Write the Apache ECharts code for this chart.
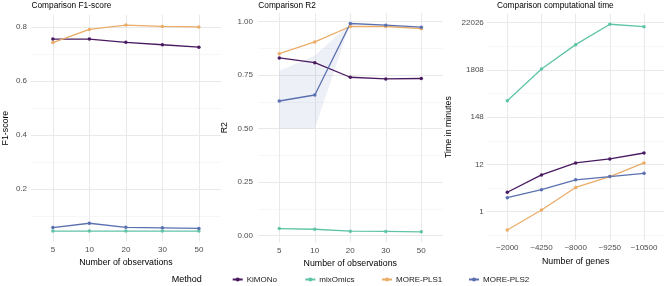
<!DOCTYPE html>
<html>
<head>
<meta charset="utf-8">
<script src="https://cdn.jsdelivr.net/npm/echarts@6/dist/echarts.min.js"></script>
<style>html,body{margin:0;padding:0;background:#fff}#c{width:666px;height:286px}</style>
</head>
<body>
<div id="c"></div>
<script>
// ---- data ----
const obsCats = ['5', '10', '20', '30', '50'];
const geneCats = ['~2000', '~4250', '~8000', '~9250', '~10500'];
const methods = ['KiMONo', 'mixOmics', 'MORE-PLS1', 'MORE-PLS2'];

const f1KiMONo = [0.755, 0.755, 0.743, 0.734, 0.725];
const f1MixOmics = [0.044, 0.044, 0.044, 0.044, 0.044];
const f1Pls1 = [0.742, 0.791, 0.807, 0.802, 0.800];
const f1Pls2 = [0.057, 0.073, 0.058, 0.056, 0.054];

const r2KiMONo = [0.830, 0.808, 0.740, 0.732, 0.734];
const r2MixOmics = [0.033, 0.030, 0.021, 0.020, 0.018];
const r2Pls1 = [0.850, 0.905, 0.977, 0.977, 0.967];
const r2Pls2 = [0.629, 0.657, 0.991, 0.983, 0.974];
const r2Pls2Low = [0.50, 0.50, 0.991, 0.983, 0.974];
const r2Pls2High = [0.77, 0.84, 0.991, 0.983, 0.974];

const timeKiMONo = [2.8, 7.0, 13.2, 16.3, 22.3];
const timeMixOmics = [355, 1900, 6900, 20300, 17800];
const timePls1 = [0.38, 1.09, 3.6, 6.4, 13.2];
const timePls2 = [2.1, 3.2, 5.4, 6.4, 7.6];

const f1Ticks = [0.2, 0.4, 0.6, 0.8];
const f1Minor = [0.1, 0.3, 0.5, 0.7];
const r2Ticks = [0, 0.25, 0.5, 0.75, 1];
const r2Minor = [0.125, 0.375, 0.625, 0.875];
const timeTicksLn = [0, 2.5, 5, 7.5, 10];
const timeMinorLn = [-1.25, 1.25, 3.75, 6.25, 8.75];

// ---- style ----
const colors = {'KiMONo': '#4a1a60', 'mixOmics': '#5fc4a7', 'MORE-PLS1': '#eaac67', 'MORE-PLS2': '#5a70b0'};
const FONT = 'Liberation Sans, Arial, sans-serif';
const majorCol = '#e9e9e9', minorCol = '#f3f3f3';

const grids = [
  {left: 31, top: 14.8, width: 189.8, height: 226.6},
  {left: 258, top: 13, width: 184.6, height: 229.3},
  {left: 486.8, top: 14, width: 177.7, height: 226.2}
];
const yRanges = [[0.0058, 0.845], [-0.031, 1.04], [-1.51, 10.46]];
const yMajors = [f1Ticks, r2Ticks, timeTicksLn];
const yMinors = [f1Minor, r2Minor, timeMinorLn];
const yNames = ['F1-score', 'R2', 'Time in minutes'];
const yNameGaps = [21, 29, 34];
const yLabMargins = [4, 5, 3];
const xCats = [obsCats, obsCats, geneCats];
const xNames = ['Number of observations', 'Number of observations', 'Number of genes'];
const yFormatters = [
  v => (Math.round(v * 10) / 10).toFixed(1),
  v => v.toFixed(2),
  v => String(Math.round(Math.exp(v)))
];

const xAxes = [], yAxes = [];
for (let i = 0; i < 3; i++) {
  const cats = xCats[i];
  xAxes.push({
    type: 'value', gridIndex: i, min: 0.4, max: 5.6,
    name: xNames[i], nameLocation: 'middle', nameGap: 17,
    nameTextStyle: {fontFamily: FONT, fontSize: 8.8, color: '#000'},
    axisLine: {show: false},
    axisTick: {show: false, customValues: [1, 2, 3, 4, 5]},
    axisLabel: {customValues: [1, 2, 3, 4, 5], margin: 4, fontFamily: FONT, fontSize: 8, color: '#4d4d4d',
      formatter: v => cats[Math.round(v) - 1]},
    splitLine: {show: true, lineStyle: {color: majorCol, width: 1}}
  });
  const fmt = yFormatters[i];
  yAxes.push({
    type: 'value', gridIndex: i, min: yRanges[i][0], max: yRanges[i][1],
    name: yNames[i], nameLocation: 'middle', nameGap: yNameGaps[i],
    nameTextStyle: {fontFamily: FONT, fontSize: 8.8, color: '#000'},
    axisLine: {show: false},
    axisTick: {show: false, customValues: yMajors[i]},
    axisLabel: {customValues: yMajors[i], margin: yLabMargins[i], fontFamily: FONT, fontSize: 8, color: '#4d4d4d',
      formatter: fmt},
    splitLine: {show: true, lineStyle: {color: majorCol, width: 1}}
  });
  yAxes.push({
    type: 'value', gridIndex: i, min: yRanges[i][0], max: yRanges[i][1], position: 'left',
    axisLine: {show: false},
    axisTick: {show: false, customValues: yMinors[i]},
    axisLabel: {show: false},
    splitLine: {show: true, lineStyle: {color: minorCol, width: 0.7}}
  });
}

const xy = arr => arr.map((v, k) => [k + 1, v]);
const lnxy = arr => arr.map((v, k) => [k + 1, Math.log(v)]);

function lineSeries(name, gi, data) {
  return {
    type: 'line', name, xAxisIndex: gi, yAxisIndex: gi * 2, data,
    symbol: 'circle', symbolSize: 3.5, showSymbol: true,
    lineStyle: {width: 1.3, color: colors[name]},
    itemStyle: {color: colors[name]},
    animation: false, z: 3
  };
}

// ribbon (confidence band) for MORE-PLS2 in the R2 panel, drawn via the axes' scales
const ribbonData = r2Pls2Low.map((lo, k) => [k + 1, lo, r2Pls2High[k]]);
const ribbonSeries = {
  type: 'custom', name: '_band', xAxisIndex: 1, yAxisIndex: 2, silent: true, z: 2,
  data: [0],
  renderItem: function (params, api) {
    const top = ribbonData.map(d => api.coord([d[0], d[2]]));
    const bot = ribbonData.slice().reverse().map(d => api.coord([d[0], d[1]]));
    return {
      type: 'polygon',
      shape: {points: top.concat(bot)},
      style: {fill: 'rgba(90,112,176,0.10)', stroke: 'none'}
    };
  }
};

const series = [
  ribbonSeries,
  lineSeries('KiMONo', 0, xy(f1KiMONo)),
  lineSeries('mixOmics', 0, xy(f1MixOmics)),
  lineSeries('MORE-PLS1', 0, xy(f1Pls1)),
  lineSeries('MORE-PLS2', 0, xy(f1Pls2)),

  lineSeries('KiMONo', 1, xy(r2KiMONo)),
  lineSeries('mixOmics', 1, xy(r2MixOmics)),
  lineSeries('MORE-PLS1', 1, xy(r2Pls1)),
  lineSeries('MORE-PLS2', 1, xy(r2Pls2)),

  lineSeries('KiMONo', 2, lnxy(timeKiMONo)),
  lineSeries('mixOmics', 2, lnxy(timeMixOmics)),
  lineSeries('MORE-PLS1', 2, lnxy(timePls1)),
  lineSeries('MORE-PLS2', 2, lnxy(timePls2))
];

const legendLefts = [231.7, 304.3, 381, 468];
const legends = methods.map((m, k) => ({
  data: [m], left: legendLefts[k], top: 275.5, padding: 0,
  itemWidth: 10, itemHeight: 5, itemGap: 4, selectedMode: false,
  textStyle: {fontFamily: FONT, fontSize: 8, color: '#1a1a1a', padding: [0, 0, 0, -1]}
}));

const titleStyle = {fontFamily: FONT, fontSize: 8.3, fontWeight: 'normal', color: '#000'};
const option = {
  backgroundColor: '#fff',
  animation: false,
  title: [
    {text: 'Comparison F1-score', left: 31.5, top: 1.5, padding: 0, textStyle: titleStyle},
    {text: 'Comparison R2', left: 258.3, top: 1.5, padding: 0, textStyle: titleStyle},
    {text: 'Comparison computational time', left: 497, top: 1.5, padding: 0, textStyle: titleStyle},
    {text: 'Method', left: 171.7, top: 275, padding: 0,
      textStyle: {fontFamily: FONT, fontSize: 9, fontWeight: 'normal', color: '#000'}}
  ],
  legend: legends,
  grid: grids,
  xAxis: xAxes,
  yAxis: yAxes,
  series
};

const chart = echarts.init(document.getElementById('c'), null, {renderer: 'canvas'});
chart.setOption(option);
</script>
</body>
</html>
